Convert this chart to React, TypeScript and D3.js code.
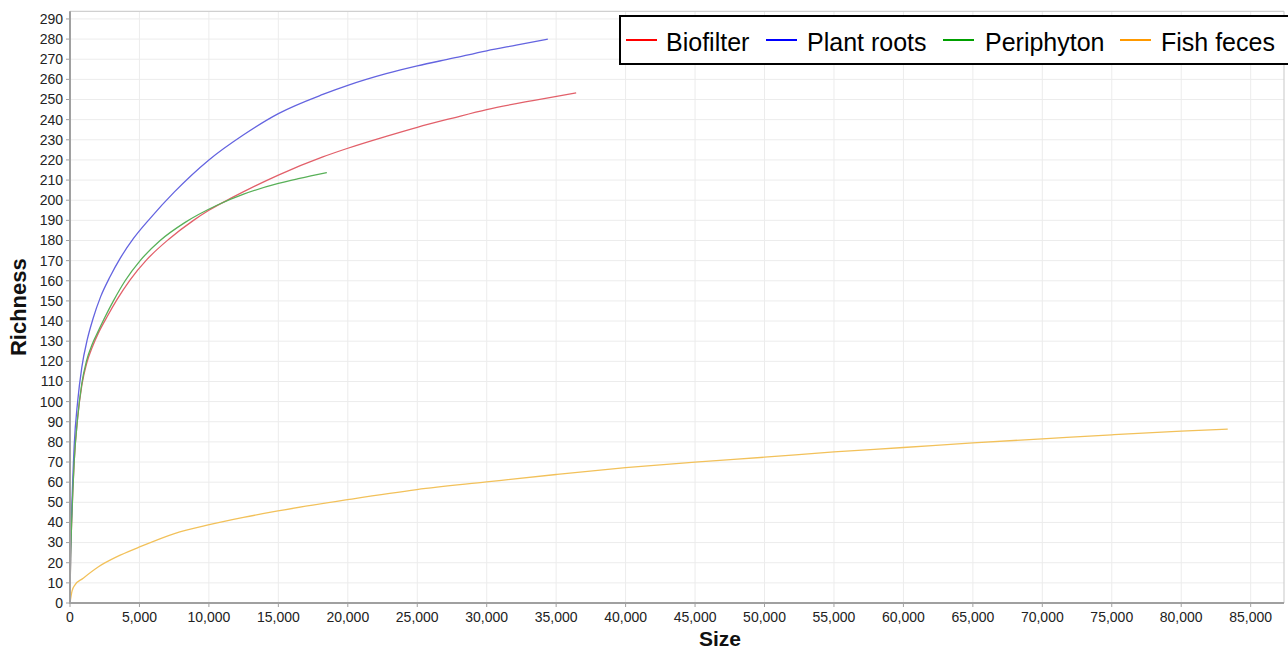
import React from "react";
import * as d3 from "d3";

// ---- data ----
const biofilterSize = [0, 40, 100, 300, 550, 850, 1200, 1600, 2040, 2700, 3370, 4330, 5530, 7090, 8890, 10000, 11730, 15000, 18200, 20000, 22760, 25000, 27560, 30000, 33320, 36440];
const biofilterRichness = [0, 22, 36, 70, 92, 108, 119, 127, 134, 142.5, 150.5, 160.5, 170.5, 180.5, 190, 195, 201.5, 212.5, 221.5, 225.8, 231.7, 236.2, 240.8, 245, 249.5, 253.3];

const plantSize = [0, 40, 100, 300, 550, 850, 1250, 1650, 2200, 2880, 3600, 4570, 5770, 7500, 10000, 12500, 15000, 18200, 20000, 22760, 25000, 27560, 30000, 32120, 34400];
const plantRichness = [0, 24, 40, 78, 100, 117, 131, 141, 152, 162, 171, 181, 191, 204, 220, 232.5, 243, 252.5, 257, 262.8, 266.7, 270.5, 274.2, 277, 280];

const periSize = [0, 40, 100, 300, 550, 850, 1200, 1600, 2000, 2450, 3125, 3970, 5050, 6490, 8290, 10580, 12500, 15000, 16530, 18490];
const periRichness = [0, 22, 36, 70, 92, 109, 120.5, 128.5, 134.5, 141, 150, 160, 170, 180, 189, 197.5, 203, 208.3, 210.8, 213.7];

const fishSize = [0, 150, 360, 910, 2050, 3390, 4900, 7520, 9950, 12490, 14970, 19990, 24970, 29990, 35000, 40000, 45000, 50000, 55000, 60000, 65000, 70000, 75000, 80000, 83350];
const fishRichness = [0, 6, 9, 12.1, 18, 23, 27.5, 34.5, 38.8, 42.5, 45.7, 51.3, 56.3, 60.1, 63.8, 67.2, 70, 72.4, 75, 77.2, 79.5, 81.5, 83.5, 85.3, 86.3];

const seriesNames = ["Biofilter", "Plant roots", "Periphyton", "Fish feces"];
const lineColors = ["#e2606a", "#6464e0", "#58b058", "#f2c15a"];
const legendColors = ["#ff0000", "#0000ff", "#00a000", "#ff9900"];

const xTicks = d3.range(0, 85001, 5000);
const yTicks = d3.range(0, 291, 10);

const W = 1288;
const H = 652;
const left = 70;
const right = 1284;
const top = 11.3;
const bottom = 603;

export default function App() {
  const x = d3.scaleLinear().domain([0, 87400]).range([left, right]);
  const y = d3.scaleLinear().domain([0, 293.8]).range([bottom, top]);
  const fmt = d3.format(",");

  const series = [
    { s: biofilterSize, v: biofilterRichness },
    { s: plantSize, v: plantRichness },
    { s: periSize, v: periRichness },
    { s: fishSize, v: fishRichness },
  ];

  const line = d3
    .line<[number, number]>()
    .x((d) => x(d[0]))
    .y((d) => y(d[1]))
    .curve(d3.curveMonotoneX);

  // legend layout
  const legendSwatchX = [626, 766, 943, 1120];
  const legendTextX = [666, 807, 985, 1161];

  return (
    <svg
      width={W}
      height={H}
      style={{ position: "fixed", left: 0, top: 0, background: "#fff" }}
      fontFamily="Liberation Sans, Arial, sans-serif"
    >
      <rect x={0} y={0} width={W} height={H} fill="#fff" />
      {/* grid */}
      {yTicks.map((t) => (
        <line key={"gy" + t} x1={left} x2={right} y1={y(t)} y2={y(t)} stroke="#ececec" strokeWidth={1} />
      ))}
      {xTicks.map((t) => (
        <line key={"gx" + t} x1={x(t)} x2={x(t)} y1={top} y2={bottom} stroke="#ececec" strokeWidth={1} />
      ))}
      {/* frame */}
      <line x1={left} x2={right} y1={top} y2={top} stroke="#d0d0d0" strokeWidth={1.2} />
      <line x1={right} x2={right} y1={top} y2={bottom} stroke="#d0d0d0" strokeWidth={1.2} />

      {/* lines */}
      {series.map((sr, i) => {
        const pts: [number, number][] = sr.s.map((s, k) => [s, sr.v[k]]);
        return (
          <path key={"l" + i} d={line(pts) || ""} fill="none" stroke={lineColors[i]} strokeWidth={1.3} />
        );
      })}

      {/* axes */}
      <line x1={left} x2={left} y1={top} y2={bottom + 1} stroke="#a0a0a0" strokeWidth={2} />
      <line x1={left - 1} x2={right} y1={bottom} y2={bottom} stroke="#a0a0a0" strokeWidth={2} />
      {yTicks.map((t) => (
        <g key={"ty" + t}>
          <line x1={left - 4} x2={left} y1={y(t)} y2={y(t)} stroke="#a0a0a0" strokeWidth={1} />
          <text x={63} y={y(t)} dy="0.35em" textAnchor="end" fontSize={14} fill="#222">
            {t}
          </text>
        </g>
      ))}
      {xTicks.map((t) => (
        <g key={"tx" + t}>
          <line x1={x(t)} x2={x(t)} y1={bottom} y2={bottom + 4} stroke="#a0a0a0" strokeWidth={1} />
          <text x={x(t)} y={622} textAnchor="middle" fontSize={14} fill="#222">
            {fmt(t)}
          </text>
        </g>
      ))}

      {/* axis titles */}
      <text x={720} y={646} textAnchor="middle" fontSize={21} fontWeight="bold" fill="#111">
        Size
      </text>
      <text
        transform={`translate(26,${(top + bottom) / 2}) rotate(-90)`}
        textAnchor="middle"
        fontSize={22}
        fontWeight="bold"
        fill="#111"
      >
        Richness
      </text>

      {/* legend */}
      <rect x={620} y={16} width={680} height={48} fill="#fff" stroke="#000" strokeWidth={2} />
      {seriesNames.map((n, i) => (
        <g key={"lg" + i}>
          <line
            x1={legendSwatchX[i]}
            x2={legendSwatchX[i] + 31}
            y1={40}
            y2={40}
            stroke={legendColors[i]}
            strokeWidth={2}
          />
          <text x={legendTextX[i]} y={51} fontSize={25} fill="#000">
            {n}
          </text>
        </g>
      ))}
    </svg>
  );
}
